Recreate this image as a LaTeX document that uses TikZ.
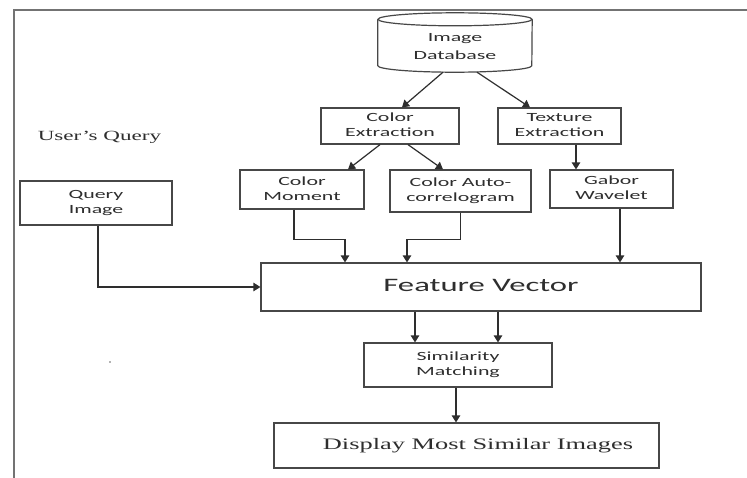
\documentclass[tikz,border=0pt]{standalone}
\usepackage{graphicx}
\usepackage{fontspec}
\setmainfont{Carlito}
\newfontfamily\serifrm{Liberation Serif}
\usetikzlibrary{arrows.meta}
\newcommand{\stx}[2][1.75]{\scalebox{#1}[1]{\begin{tabular}{@{}c@{}}#2\end{tabular}}}
\tikzset{
  boxline/.style={draw=black!72, line width=1.2pt},
  box/.style={boxline, rectangle, inner sep=0pt, text=black!82,
    font=\fontsize{12.5}{15}\selectfont},
  conn/.style={draw=black!82, line width=1.2pt, -{Triangle[length=7pt,width=8.5pt]}},
  frame/.style={draw=black!55, line width=1.8pt},
  freetext/.style={inner sep=0pt, text=black!82}
}
\begin{document}
\begin{tikzpicture}[x=1pt,y=-1pt]
\fill[white] (0,0) rectangle (747,477);
\useasboundingbox (0,0) rectangle (747,477);
% frame
\draw[frame] (14,480) -- (14,10) -- (750,10);
% database
\node[inner sep=0pt, minimum width=154pt, minimum height=59pt, text=black!82,
  font=\fontsize{12.5}{15}\selectfont] (db) at (455,42.5)
  {\raisebox{-8pt}[0pt][0pt]{\stx{Image\\[3pt]Database}}};
\draw[boxline] ([yshift=-6.5pt]db.north west) -- ([yshift=6.5pt]db.south west)
  arc[start angle=180,end angle=360,x radius=77pt,y radius=6.5pt]
  -- ([yshift=-6.5pt]db.north east);
\draw[boxline] ([yshift=-6.5pt]db.north) ellipse[x radius=77pt, y radius=6.5pt];
% boxes
\node[box, minimum width=138pt, minimum height=36pt] (ce) at (390,126) {\stx{Color\\Extraction}};
\node[box, minimum width=123pt, minimum height=36pt] (te) at (559.5,126) {\stx{Texture\\Extraction}};
\node[box, minimum width=124pt, minimum height=39pt] (cm) at (302,189.5) {\stx{Color\\Moment}};
\node[box, minimum width=141pt, minimum height=42pt] (ca) at (460.5,191) {\stx{Color Auto-\\correlogram}};
\node[box, minimum width=123pt, minimum height=38pt] (gw) at (611.5,189) {\stx{Gabor\\Wavelet}};
\node[box, minimum width=152pt, minimum height=44pt] (qi) at (96,203) {\stx{Query\\Image}};
\node[box, minimum width=440pt, minimum height=48pt, font=\fontsize{19}{22}\selectfont] (fv) at (481,287)
  {\stx[1.72]{Feature Vector}\hspace{50pt}};
\node[box, minimum width=188pt, minimum height=44pt] (sm) at (458,365) {\stx{Similarity\\Matching}};
\node[box, minimum width=385pt, minimum height=45pt, font=\serifrm\fontsize{16}{18}\selectfont] (dm) at (466.5,445.5)
  {\hspace{23pt}\stx[1.65]{Display Most Similar Images}};
\node[freetext, font=\serifrm\fontsize{14}{16}\selectfont] (uq) at (99.5,137)
  {\scalebox{1.65}[1]{User’s Query}};
\fill[black!60] (110,362) circle (0.9pt);
% connectors
\draw[conn] ([xshift=-12pt]db.south) -- ([xshift=12pt]ce.north);
\draw[conn] ([xshift=22pt]db.south) -- ([xshift=-29.5pt]te.north);
\draw[conn] ([xshift=-10pt]ce.south) -- ([xshift=46pt]cm.north);
\draw[conn] ([xshift=18pt]ce.south) -- ([xshift=-17.5pt]ca.north);
\draw[conn] ([xshift=16.5pt]te.south) -- ([xshift=-35.5pt]gw.north);
\draw[conn] ([xshift=-8pt]cm.south) -- ++(0,30) -| ([xshift=-136pt]fv.north);
\draw[conn] (ca.south) -- ++(0,27) -| ([xshift=-74pt]fv.north);
\draw[conn] ([xshift=8.5pt]gw.south) -- ([xshift=139pt]fv.north);
\draw[conn] ([xshift=2pt]qi.south) |- (fv.west);
\draw[conn] ([xshift=-66pt]fv.south) -- ([xshift=-43pt]sm.north);
\draw[conn] ([xshift=17pt]fv.south) -- ([xshift=40pt]sm.north);
\draw[conn] ([xshift=-2pt]sm.south) -- ([xshift=-10.5pt]dm.north);
\end{tikzpicture}
\end{document}
